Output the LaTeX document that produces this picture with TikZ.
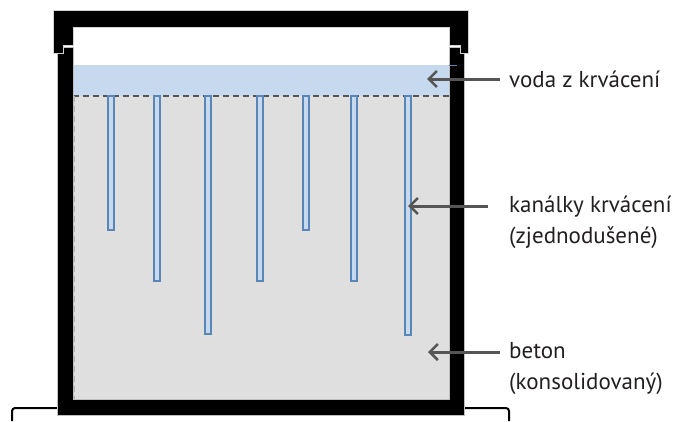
\documentclass[tikz,border=0pt]{standalone}
\usepackage{fontspec}
\setmainfont{PT Sans}
\usetikzlibrary{arrows.meta}
\definecolor{waterblue}{HTML}{C6D9EE}
\definecolor{chanedge}{HTML}{5A86B6}
\definecolor{concrete}{HTML}{DFDFDF}
\definecolor{arrowgray}{HTML}{555555}
\definecolor{inktext}{HTML}{231F20}
\tikzset{
  channel/.style={fill=waterblue, draw=chanedge, line width=1.2pt},
  pointer/.style={draw=arrowgray, line width=3pt, -{Straight Barb[length=8pt,width=16pt,line width=2.6pt]}},
  label/.style={anchor=west, font=\fontsize{23}{31}\selectfont, align=left, inner sep=0pt, text=inktext},
}
\begin{document}
\begin{tikzpicture}[x=1pt,y=-1pt]
\useasboundingbox (0,0) rectangle (676,421);

% stand under the container
\draw[line width=2pt, rounded corners=3pt] (12,421) -- (12,408) -- (60,408);
\draw[line width=2pt, rounded corners=3pt] (460,408) -- (509,408) -- (509,421);

% contents: concrete and bleed water
\fill[concrete] (73,96) rectangle (449,399);
\fill[waterblue] (73,65) rectangle (449,96);
\draw[arrowgray, line width=1.3pt, dash pattern=on 6pt off 4pt] (73,96) -- (449,96);
\draw[gray!60, line width=1pt, dash pattern=on 6pt off 4pt] (74.5,96) -- (74.5,399);

% bleeding channels
\foreach \x/\b in {108/230, 154/281, 205/334, 257/281, 303/230, 351/281, 405/335}
  \draw[channel] (\x,96) rectangle ++(6,\b-96);

% container walls
\fill[black, draw=gray!50, line width=0.6pt]
  (57,47) -- (73,47) -- (73,399) -- (449,399) -- (449,47) -- (464,47) -- (464,415) -- (57,415) -- cycle;
\draw[chanedge, line width=1pt] (449,65) -- (457,65);

% lid
\fill[black, draw=gray!35, line width=0.8pt]
  (53,10) -- (468,10) -- (468,53) -- (460,53) -- (460,45) -- (449,45) -- (449,27)
  -- (73,27) -- (73,45) -- (63,45) -- (63,53) -- (53,53) -- cycle;

% labels and pointers
\node[label] (water) at (509,79) {voda z krvácení};
\coordinate (waterpt) at (427,79);
\draw[pointer] (500,79) -- (waterpt);

\node[label] (chan) at (509,222) {kanálky krvácení\\(zjednodušené)};
\coordinate (chanpt) at (408,206);
\draw[pointer] (488,206) -- (chanpt);

\node[label] (beton) at (509,368) {beton\\(konsolidovaný)};
\coordinate (betonpt) at (428,352);
\draw[pointer] (500,352) -- (betonpt);
\end{tikzpicture}
\end{document}
